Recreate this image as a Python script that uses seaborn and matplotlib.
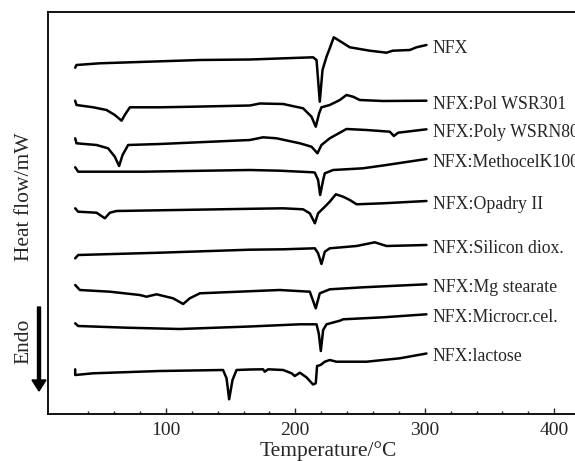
import numpy as np
import pandas as pd
import matplotlib
matplotlib.use('Agg')
import matplotlib.pyplot as plt
import seaborn as sns

# DSC thermograms of NFX and its binary mixtures (heat flow in arbitrary offset units)
sns.set_style('white')
plt.rcParams['font.family'] = ['Liberation Serif', 'DejaVu Serif']

names = ['NFX', 'NFX:Pol WSR301', 'NFX:Poly WSRN80', 'NFX:MethocelK100',
         'NFX:Opadry II', 'NFX:Silicon diox.', 'NFX:Mg stearate',
         'NFX:Microcr.cel.', 'NFX:lactose']

t_nfx = [30, 31, 49, 126.3, 164.9, 213.7, 216.4, 218.9, 221, 224.1, 226.6, 229.7,
         233.1, 242.1, 257.5, 270.4, 275.3, 288.4, 293.6, 301.3]
h_nfx = [346.3, 349, 350.7, 354, 354.5, 356.7, 354, 312.3, 344, 357.3, 365.7, 376.7,
         374, 366.7, 363.3, 361.3, 363.3, 364, 366.7, 369]

t_pol = [30, 31, 43.9, 54.2, 60.6, 65.8, 68.3, 72.2, 95.4, 121.1, 164.9, 172.6, 190.6,
         206, 212.5, 215.8, 218.4, 220.2, 226.6, 234.4, 239.5, 244.6, 249.8, 267.8, 301.3]
h_pol = [313.3, 309, 306.7, 304, 299, 293.3, 299, 306.7, 306.7, 307.3, 308.5, 310.5, 310,
         305.7, 297.3, 287.3, 300.7, 306.7, 309, 314, 319, 317.3, 314, 313, 313.3]

t_poly = [30, 31, 46.5, 55.4, 60.6, 63.9, 66.6, 70.9, 95.4, 164.9, 175.1, 185.5, 203.5,
          212.5, 217.1, 220.2, 226.6, 239.5, 255, 273, 276.1, 279.4, 301.3]
h_poly = [275.7, 270.7, 269, 265.7, 257.3, 248, 259, 269, 270, 274, 276.7, 275.7, 270.7,
          267.3, 260.7, 269, 275.7, 285, 284, 282.3, 278, 281.3, 284.7]

t_meth = [30, 32.3, 82.5, 164.9, 188, 213.7, 215.1, 217.6, 219.2, 221.5, 222.8, 229.2,
          252.3, 270.4, 301.3]
h_meth = [246.7, 242.3, 242.3, 244, 243.3, 241.7, 241.3, 234, 219, 234, 240.7, 244,
          245.7, 249, 255]

t_opa = [30, 32.3, 46.5, 52.9, 56.8, 61.9, 164.9, 190.6, 206, 211.2, 215.1, 217.6, 222.8,
         226.6, 231.3, 236.9, 242.1, 247.3, 267.8, 301.3]
h_opa = [205.7, 202.3, 201.3, 195.7, 201.3, 203, 205.2, 205.7, 204.7, 200.7, 190.7, 200.7,
         207.3, 212.3, 219.7, 217.3, 214, 209.7, 210.7, 213]

t_sil = [30, 32.3, 95.4, 164.9, 190.6, 215.1, 217.6, 220.2, 222.8, 226.6, 247.3, 261.4,
         270.4, 301.3]
h_sil = [155.7, 159, 161.3, 164.3, 164.7, 165.7, 160.7, 150, 162.3, 165.7, 168, 171.7,
         168, 169]

t_mg = [30, 33.6, 56.8, 79.9, 85.1, 92.8, 105.6, 113.4, 118.5, 126.3, 188, 211.2, 215.8,
        218.9, 226.6, 252.3, 301.3]
h_mg = [129, 124, 122.3, 119, 117.3, 119.7, 115.7, 110, 115.7, 120.7, 124, 122.3, 105.7,
        120.7, 124.7, 126.7, 129.7]

t_mcc = [30, 32.3, 69.7, 110.8, 164.9, 203.5, 216.4, 218.1, 219.7, 221.5, 224.1, 234.4,
         236.9, 267.8, 301.3]
h_mcc = [90.7, 88, 86.3, 85, 87.5, 89.7, 89.7, 80.7, 63, 84, 89.7, 93.3, 94.7, 96.7, 99.7]

t_lac = [30, 30, 43.9, 95.4, 144.2, 146.9, 148.9, 151.5, 154.6, 164.9, 175.1, 176.4, 179,
         190.6, 197.1, 199.6, 203.5, 208.6, 213.7, 215.8, 216.8, 219.5, 222.8, 226.6, 231.8,
         255, 280.7, 301.3]
h_lac = [44.7, 39, 40.7, 43, 44, 35.7, 14.7, 34, 44, 44.5, 44.7, 42.3, 44.7, 44, 40.7, 38,
         41.3, 36.7, 29.5, 30.7, 48, 49, 52.3, 54, 52.3, 52.3, 55.7, 60.5]

temps = [t_nfx, t_pol, t_poly, t_meth, t_opa, t_sil, t_mg, t_mcc, t_lac]
flows = [h_nfx, h_pol, h_poly, h_meth, h_opa, h_sil, h_mg, h_mcc, h_lac]

frames = []
for name, t, h in zip(names, temps, flows):
    frames.append(pd.DataFrame({'sample': name, 'T': t, 'h': h}))
df = pd.concat(frames, ignore_index=True)

fig = plt.figure(figsize=(5.75, 4.61), dpi=100)
ax = fig.add_axes([48 / 575, 47 / 461, 560 / 575, 402 / 461])

sns.lineplot(data=df, x='T', y='h', units='sample', estimator=None, sort=False,
             color='black', linewidth=1.8, legend=False, ax=ax)

for name, t, h in zip(names, temps, flows):
    ax.annotate(name, xy=(t[-1], h[-1]), xytext=(4.5, -2.5), textcoords='offset points',
                ha='left', va='center', fontsize=12.8, annotation_clip=False)

ax.set_xlim(9, 441.5)
ax.set_ylim(0, 402)
ax.set_xticks([100, 200, 300, 400])
ax.set_xticks(np.arange(40, 441, 20), minor=True)
ax.set_yticks([])
ax.tick_params(axis='x', which='major', direction='in', length=4.5, width=1,
               labelsize=14, pad=6, bottom=True)
ax.tick_params(axis='x', which='minor', direction='in', length=2.5, width=1, bottom=True)
for s in ax.spines.values():
    s.set_linewidth(1.3)
    s.set_color('black')

ax.set_xlabel('Temperature/°C', fontsize=15.5, labelpad=1)
ax.set_ylabel('Heat flow/mW', fontsize=15.5)
ax.yaxis.set_label_coords(-0.025, 0.54)

# Endo arrow
fig.text(24 / 575, 1 - 341 / 461, 'Endo', rotation=90, ha='center', va='center', fontsize=15.5)
fig.patches.append(matplotlib.patches.FancyArrow(
    39 / 575, 1 - 307 / 461, 0, -(391 - 307 - 11) / 461, width=2.4 / 461,
    head_width=14 / 575, head_length=11 / 461, length_includes_head=False,
    color='black', transform=fig.transFigure, figure=fig))

fig.savefig('out.png', dpi=100)
